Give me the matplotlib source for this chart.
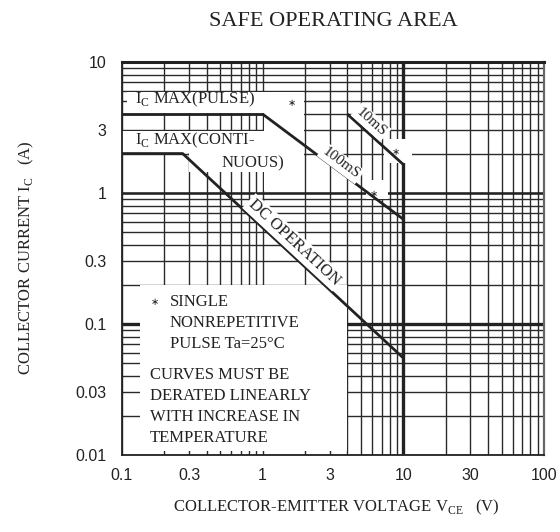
import numpy as np
import matplotlib.pyplot as plt
from matplotlib.patches import Rectangle
from matplotlib.ticker import FixedLocator, NullFormatter

plt.rcParams['font.family'] = ['Liberation Serif', 'DejaVu Serif']
plt.rcParams['mathtext.fontset'] = 'custom'
plt.rcParams['mathtext.rm'] = 'Liberation Serif'

INK = '#222222'

# axis ticks
x_ticks = [0.1, 0.3, 1, 3, 10, 30, 100]
x_labels = ['0.1', '0.3', '1', '3', '10', '30', '100']
y_ticks = [0.01, 0.03, 0.1, 0.3, 1, 3, 10]
y_labels = ['0.01', '0.03', '0.1', '0.3', '1', '3', '10']

# SOA boundaries (VCE in V, IC in A)
pulse_v = [0.1, 1.0]
pulse_i = [4.0, 4.0]
dc_v = [0.1, 0.27, 10]
dc_i = [2.0, 2.0, 0.055]
ms100_v = [1.0, 10]
ms100_i = [4.0, 0.63]
ms10_v = [4.0, 10]
ms10_i = [4.0, 1.65]
vceo = 10


def screen_angle(ax, xs, ys):
    p = ax.transData.transform(np.column_stack([xs[-2:], ys[-2:]]))
    return np.degrees(np.arctan2(p[1, 1] - p[0, 1], p[1, 0] - p[0, 0]))


fig = plt.figure(figsize=(5.6, 5.32), dpi=100)
ax = fig.add_axes([122 / 560, 77 / 532, 422 / 560, 393 / 532])
ax.set_xscale('log')
ax.set_yscale('log')
ax.set_xlim(0.1, 100)
ax.set_ylim(0.01, 10)

# full 1..9 log grid
minor_x = [m * 10.0 ** k for k in range(-1, 2) for m in range(2, 10)]
minor_y = [m * 10.0 ** k for k in range(-2, 1) for m in range(2, 10)]
ax.xaxis.set_major_locator(FixedLocator(x_ticks))
ax.yaxis.set_major_locator(FixedLocator(y_ticks))
ax.xaxis.set_minor_locator(FixedLocator(minor_x))
ax.yaxis.set_minor_locator(FixedLocator(minor_y))
ax.xaxis.set_minor_formatter(NullFormatter())
ax.yaxis.set_minor_formatter(NullFormatter())
ax.set_xticklabels(x_labels)
ax.set_yticklabels(y_labels)
ax.set_axisbelow(True)
ax.grid(which='both', color='#2a2a2a', lw=1.0)
ax.tick_params(which='both', length=0, labelsize=11.5, colors=INK)
ax.tick_params(axis='x', pad=9)
ax.tick_params(axis='y', pad=11)
for lab in ax.get_xticklabels() + ax.get_yticklabels():
    lab.set_family(['Liberation Sans', 'DejaVu Sans'])

# heavier reference lines
ax.axvline(vceo, color=INK, lw=2.4, zorder=0.8)
ax.axhline(0.1, color=INK, lw=2.4, zorder=0.8)
ax.axhline(1, color=INK, lw=1.8, zorder=0.8)

for side in ax.spines.values():
    side.set_color(INK)
    side.set_linewidth(1.3)
ax.spines['top'].set_linewidth(2.2)
ax.spines['right'].set_color('#666666')
ax.spines['right'].set_linewidth(1.6)

# white areas where the printed grid is left out
blank = [
    (0.108, 1.97, 4.05, 5.9),
    (0.1, 1.97, 2.03, 2.95),
    (1.03, 1.97, 2.0, 4.05),
    (0.3, 1.97, 1.45, 2.03),
    (1.03, 1.97, 1.04, 1.45),
    (7.3, 11.5, 1.68, 2.6),
    (5.4, 7.8, 0.9, 1.25),
    (0.134, 3.97, 0.0108, 0.197),
]
for x0, x1, y0, y1 in blank:
    ax.add_patch(Rectangle((x0, y0), x1 - x0, y1 - y0, fc='white', ec='none', zorder=1))

line_kw = dict(color=INK, lw=2.0, zorder=3, solid_capstyle='butt')
ax.plot(pulse_v, pulse_i, **line_kw)
ax.plot(dc_v, dc_i, **line_kw)
ax.plot(ms100_v, ms100_i, **line_kw)
ax.plot(ms10_v, ms10_i, **line_kw)

txt = dict(color=INK, fontsize=12, zorder=4)
ax.text(0.124, 5.2, r'I$_{\mathrm{C}}$ MAX(PULSE)', ha='left', va='center', **txt)
ax.text(0.124, 2.54, r'I$_{\mathrm{C}}$ MAX(CONTI-', ha='left', va='center', **txt)
ax.text(0.513, 1.69, 'NUOUS)', ha='left', va='center', **txt)

box = dict(fc='white', ec='none', pad=1.5)
ax.text(1.67, 0.42, 'DC OPERATION', rotation=screen_angle(ax, dc_v, dc_i),
        ha='center', va='center', rotation_mode='anchor', bbox=box, **txt)
ax.text(5.9, 3.48, '10mS', rotation=screen_angle(ax, ms10_v, ms10_i),
        ha='center', va='center', rotation_mode='anchor', bbox=box,
        color=INK, fontsize=11, zorder=4)
ax.text(3.6, 1.69, '100mS', rotation=screen_angle(ax, ms100_v, ms100_i),
        ha='center', va='center', rotation_mode='anchor', bbox=box,
        color=INK, fontsize=11, zorder=4)

star = dict(color=INK, fontsize=7, ha='center', va='center', zorder=4,
            family=['DejaVu Sans'])
for sx, sy in [(1.6, 4.9), (8.9, 2.05), (6.2, 0.98), (0.172, 0.147)]:
    ax.text(sx, sy, '\u2217', **star)

ax.text(0.219, 0.1017, 'SINGLE\nNONREPETITIVE\nPULSE Ta=25\u00b0C',
        ha='left', va='center', linespacing=1.45, **txt)
ax.text(0.158, 0.0233, 'CURVES MUST BE\nDERATED LINEARLY\nWITH INCREASE IN\nTEMPERATURE',
        ha='left', va='center', linespacing=1.42, **txt)

fig.text(333 / 560, 1 - 21 / 532, 'SAFE OPERATING AREA', ha='center', va='center',
         fontsize=16, color=INK)
fig.text(336 / 560, 1 - 507 / 532,
         r'COLLECTOR-EMITTER VOLTAGE V$_{\mathrm{CE}}$   (V)',
         ha='center', va='center', fontsize=12, color=INK)
fig.text(26 / 560, 1 - 258 / 532, r'COLLECTOR CURRENT I$_{\mathrm{C}}$   (A)',
         ha='center', va='center', rotation=90, fontsize=12, color=INK)

fig.savefig('out.png', dpi=100)
